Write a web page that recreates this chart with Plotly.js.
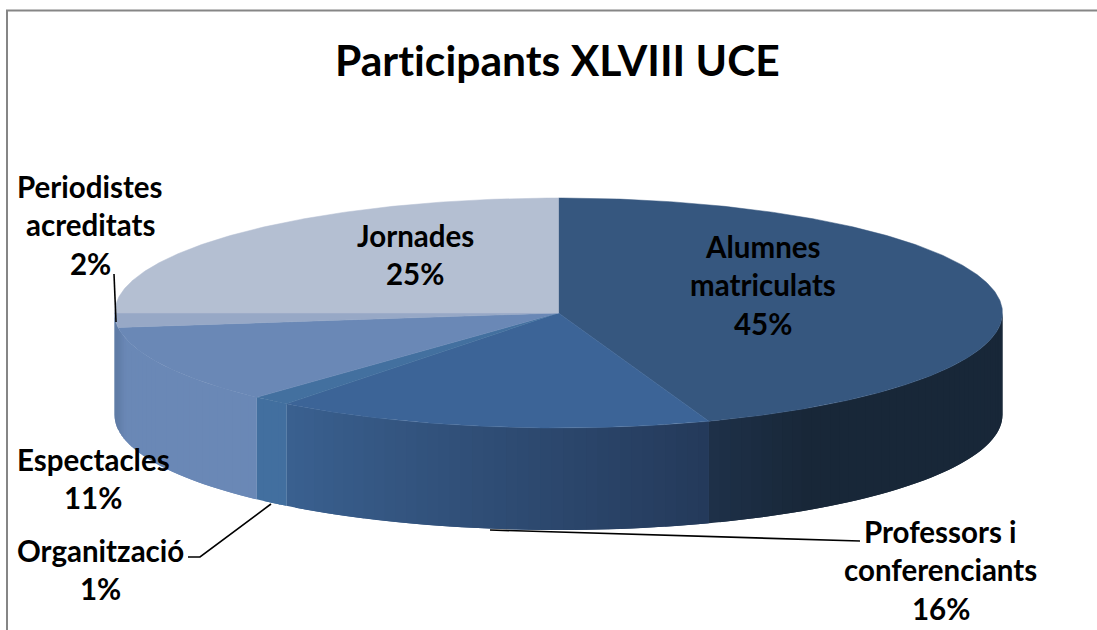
<!DOCTYPE html>
<html><head><meta charset="utf-8">
<script src="https://cdn.plot.ly/plotly-3.0.1.min.js"></script>
<style>html,body{margin:0;padding:0;background:#fff}#c{width:1097px;height:630px}
text{font-variant-ligatures:none;font-feature-settings:"liga" 0,"clig" 0}</style>
</head><body><div id="c"></div>
<script>
// ---- data ----
var categories = ["Alumnes matriculats","Professors i conferenciants","Organització","Espectacles","Periodistes acreditats","Jornades"];
var shares = [44.5,16.0,1.4,11.1,2.0,25.0];
var shareLabels = ["45%","16%","1%","11%","2%","25%"];
var titleText = "Participants XLVIII UCE";

// ---- style ----
var topColors = ["#36577F","#3C6497","#43709F","#6A88B6","#97A8C6","#B4BFD2"];
var wallFrom  = ["#182738","#24395A","#426F9F","#6A88B6","#5F7CA6","#B4BFD2"]; // colour at the lower angle
var wallTo    = ["#1E3049","#3A6090","#426F9F","#5F7CA6","#5F7CA6","#B4BFD2"]; // colour at the higher angle
var FONT = "Lato, Carlito, Calibri, sans-serif";
var cx=558.5, cy=313, rx=444, ry=115, depth=102;

// label placement: [slice index, centre x, first line y, lines]
var labelPlacement = [
  [0,763,246,["Alumnes","matriculats"]],
  [1,940.5,531,["Professors i","conferenciants"]],
  [2,100.5,550,["Organització"]],
  [3,93,459,["Espectacles"]],
  [4,90,186,["Periodistes","acreditats"]],
  [5,415,235,["Jornades"]]
];
var lineStep = 38.7;

function hex(c){return [1,3,5].map(function(i){return parseInt(c.substr(i,2),16)})}
function mix(a,b,t){var A=hex(a),B=hex(b);return "rgb("+A.map(function(v,i){return Math.round(v+(B[i]-v)*t)}).join(",")+")"}
function px(d){return cx+rx*Math.sin(d*Math.PI/180)}
function py(d){return cy-ry*Math.cos(d*Math.PI/180)}

var traces=[], acc=0, ranges=[];
shares.forEach(function(s){ranges.push([acc*3.6,(acc+s)*3.6]);acc+=s;});

// side walls (visible between 90 and 270 degrees)
ranges.forEach(function(r,i){
  var a=Math.max(r[0],90), b=Math.min(r[1],270);
  if(b<=a) return;
  var n=Math.max(1,Math.ceil((b-a)/1.5));
  for(var k=n-1;k>=0;k--){
    var d0=a+(b-a)*k/n, d1=a+(b-a)*(k+1)/n, t=(k+0.5)/n, col;
    if(i===0) t=t<0.8?0:(t-0.8)/0.2;
    if(i===3) t=t<0.85?0:(t-0.85)/0.15;
    col=mix(wallFrom[i],wallTo[i],t);
    d0=Math.max(a,d0-1.5); // overlap the neighbour so no seam shows
    var xs=[],ys=[],m;
    for(m=0;m<=4;m++){var d=d0+(d1-d0)*m/4;xs.push(px(d));ys.push(py(d));}
    for(m=4;m>=0;m--){var d2=d0+(d1-d0)*m/4;xs.push(px(d2));ys.push(py(d2)+depth);}
    xs.push(xs[0]);ys.push(ys[0]);
    traces.push({type:"scatter",mode:"lines",fill:"toself",fillcolor:col,
      line:{color:col,width:0},hoverinfo:"skip",x:xs,y:ys});
  }
});

// top surface
ranges.forEach(function(r,i){
  var xs=[cx], ys=[cy];
  for(var d=r[0];d<r[1];d+=0.5){xs.push(px(d));ys.push(py(d));}
  xs.push(px(r[1]),cx); ys.push(py(r[1]),cy);
  traces.push({type:"scatter",mode:"lines",fill:"toself",fillcolor:topColors[i],name:categories[i],
    line:{color:topColors[i],width:0.5},hoverinfo:"name",x:xs,y:ys});
});

// leader lines
[[[114,116],[274,322]],[[188,200,271],[557,557,504]],[[490,840,860],[530,541,541]]].forEach(function(l){
  traces.push({type:"scatter",mode:"lines",x:l[0],y:l[1],line:{color:"#000",width:1.6},hoverinfo:"skip"});
});
// chart frame
traces.push({type:"scatter",mode:"lines",x:[7,7,1097],y:[630,10.5,10.5],line:{color:"#868686",width:2},hoverinfo:"skip"});

var ann=[{x:557.5,y:59.5,text:"<b>"+titleText+"</b>",font:{family:FONT,size:42.6,color:"#000"}}];
labelPlacement.forEach(function(p){
  p[3].concat([shareLabels[p[0]]]).forEach(function(t,j){
    ann.push({x:p[1],y:p[2]+j*lineStep,text:"<b>"+t+"</b>",font:{family:FONT,size:29.5,color:"#000"}});
  });
});
ann.forEach(function(a){a.xref="x";a.yref="y";a.showarrow=false;a.xanchor="center";a.yanchor="middle";});

Plotly.newPlot("c",traces,{
  width:1097,height:630,margin:{l:0,r:0,t:0,b:0},showlegend:false,
  paper_bgcolor:"#fff",plot_bgcolor:"#fff",hovermode:"closest",
  xaxis:{range:[0,1097],visible:false,fixedrange:true},
  yaxis:{range:[630,0],visible:false,fixedrange:true},
  annotations:ann
},{displayModeBar:false});
</script></body></html>
